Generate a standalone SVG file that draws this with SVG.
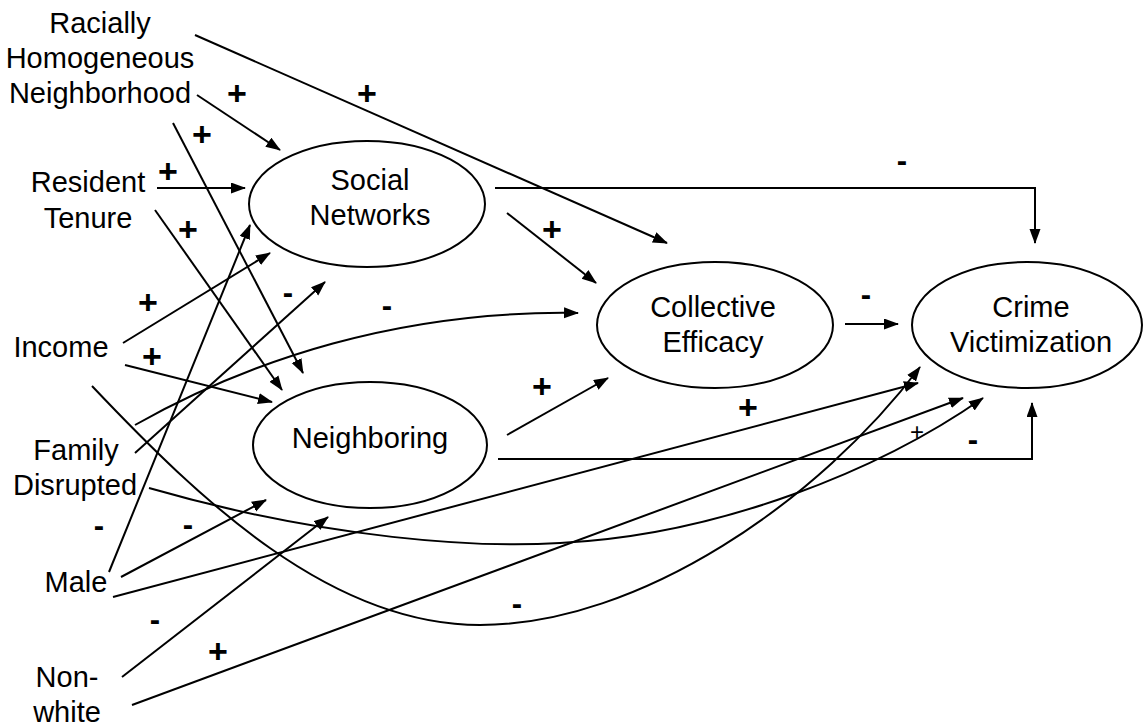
<svg xmlns="http://www.w3.org/2000/svg" width="1144" height="727" viewBox="0 0 1144 727">
<style>
text{font-family:"Liberation Sans",Arial,Helvetica,sans-serif;fill:#000}
.lbl{font-size:29px;text-anchor:middle}
.plus{font-size:34px;font-weight:bold;text-anchor:middle}
.minus{font-size:31px;font-weight:bold;text-anchor:middle}
.small{font-size:24px;text-anchor:middle}
.node ellipse{fill:#fff;stroke:#000;stroke-width:2}
.conn path,.conn line,.conn polyline{fill:none;stroke:#000;stroke-width:2}
.arr{marker-end:url(#ah)}
</style>
<defs>
<marker id="ah" markerUnits="userSpaceOnUse" markerWidth="16" markerHeight="12" refX="14" refY="5.5" orient="auto">
<path d="M0,0 L15,5.5 L0,11 z" fill="#000"/>
</marker>
</defs>
<rect width="1144" height="727" fill="#fff"/>
<g id="connectors" class="conn">
<line class="arr" x1="197" y1="95" x2="280" y2="150"/>
<line class="arr" x1="195" y1="35" x2="667" y2="243"/>
<line class="arr" x1="173" y1="123" x2="303" y2="373"/>
<line class="arr" x1="157" y1="188" x2="245" y2="188"/>
<line class="arr" x1="155" y1="210" x2="282" y2="390"/>
<polyline class="arr" points="495,188 1035,188 1035,243"/>
<line class="arr" x1="507" y1="213" x2="596" y2="283"/>
<line class="arr" x1="123" y1="343" x2="270" y2="253"/>
<line class="arr" x1="125" y1="365" x2="272" y2="402"/>
<line class="arr" x1="135" y1="453" x2="325" y2="282"/>
<path class="arr" d="M135,425 C250,360 400,310 578,313"/>
<line class="arr" x1="845" y1="324" x2="898" y2="324"/>
<line class="arr" x1="507" y1="435" x2="608" y2="378"/>
<polyline class="arr" points="498,459 1032,459 1032,403"/>
<line class="arr" x1="109" y1="572" x2="250" y2="225"/>
<line class="arr" x1="121" y1="577" x2="266" y2="500"/>
<line class="arr" x1="113" y1="597" x2="918" y2="383"/>
<line class="arr" x1="122" y1="677" x2="328" y2="517"/>
<line class="arr" x1="132" y1="705" x2="963" y2="398"/>
<path class="arr" d="M92,386 C200,500 330,625 480,625 C640,625 820,500 920,367"/>
<path class="arr" d="M149,488 C330,540 480,548 560,543 C720,535 880,470 983,398"/>
</g>
<g id="node-social-networks" class="node">
<ellipse cx="367" cy="204" rx="118" ry="63"/>
<text class="lbl" x="370" y="190">Social</text>
<text class="lbl" x="370" y="225">Networks</text>
</g>
<g id="node-neighboring" class="node">
<ellipse cx="370" cy="445" rx="117" ry="63"/>
<text class="lbl" x="370" y="448">Neighboring</text>
</g>
<g id="node-collective-efficacy" class="node">
<ellipse cx="715" cy="325" rx="118" ry="63"/>
<text class="lbl" x="713" y="317">Collective</text>
<text class="lbl" x="713" y="352">Efficacy</text>
</g>
<g id="node-crime-victimization" class="node">
<ellipse cx="1027" cy="325" rx="115" ry="63"/>
<text class="lbl" x="1031" y="317">Crime</text>
<text class="lbl" x="1031" y="352">Victimization</text>
</g>
<g id="node-racially-homogeneous">
<text class="lbl" x="100" y="33">Racially</text>
<text class="lbl" x="100" y="68">Homogeneous</text>
<text class="lbl" x="100" y="103">Neighborhood</text>
</g>
<g id="node-resident-tenure">
<text class="lbl" x="88" y="192">Resident</text>
<text class="lbl" x="88" y="228">Tenure</text>
</g>
<g id="node-income">
<text class="lbl" x="61" y="357">Income</text>
</g>
<g id="node-family-disrupted">
<text class="lbl" x="76" y="460">Family</text>
<text class="lbl" x="75" y="495">Disrupted</text>
</g>
<g id="node-male">
<text class="lbl" x="76" y="592">Male</text>
</g>
<g id="node-nonwhite">
<text class="lbl" x="67" y="687">Non-</text>
<text class="lbl" x="67" y="722">white</text>
</g>
<g id="signs">
<text class="plus" x="237" y="105">+</text>
<text class="plus" x="367" y="105">+</text>
<text class="plus" x="202" y="146">+</text>
<text class="plus" x="168" y="183">+</text>
<text class="plus" x="188" y="241">+</text>
<text class="minus" x="902" y="171">-</text>
<text class="plus" x="552" y="241">+</text>
<text class="plus" x="148" y="314">+</text>
<text class="plus" x="152" y="368">+</text>
<text class="minus" x="288" y="303">-</text>
<text class="minus" x="387" y="316">-</text>
<text class="minus" x="866" y="305">-</text>
<text class="plus" x="542" y="398">+</text>
<text class="plus" x="748" y="419">+</text>
<text class="small" x="917" y="440">+</text>
<text class="minus" x="973" y="450">-</text>
<text class="minus" x="99" y="536">-</text>
<text class="minus" x="188" y="535">-</text>
<text class="minus" x="517" y="614">-</text>
<text class="minus" x="155" y="630">-</text>
<text class="plus" x="218" y="663">+</text>
</g>
</svg>
